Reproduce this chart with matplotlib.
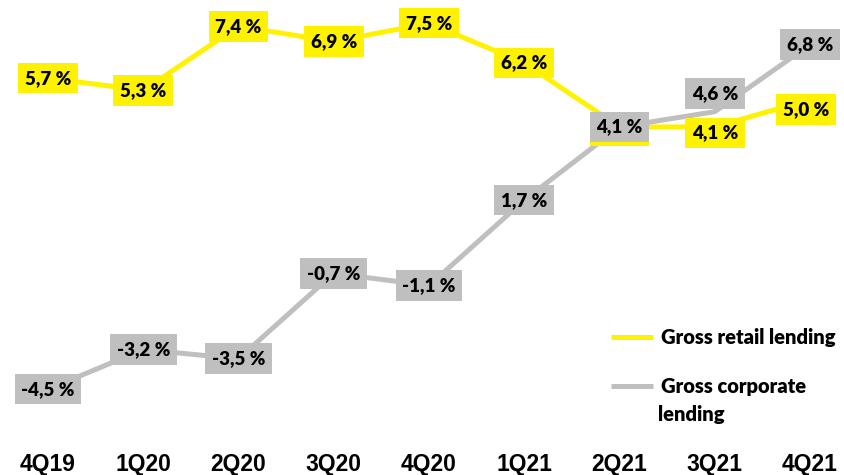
import matplotlib
matplotlib.use("Agg")
import matplotlib.pyplot as plt

# data
quarters = ["4Q19", "1Q20", "2Q20", "3Q20", "4Q20", "1Q21", "2Q21", "3Q21", "4Q21"]
retail = [5.7, 5.3, 7.4, 6.9, 7.5, 6.2, 4.1, 4.1, 5.0]
corporate = [-4.5, -3.2, -3.5, -0.7, -1.1, 1.7, 4.1, 4.6, 6.8]

# label nudges in pixels (dx, dy), like the manual moves in the original
retail_nudge = [(0, 0)] * 6 + [(0, -4), (0, -6), (-4, -10)]
corp_nudge = [(0, 0)] * 7 + [(0, 18), (0, 0)]

yellow = "#FFF200"
grey = "#BFBFBF"
lab_font = "Lato"

fig = plt.figure(figsize=(8.44, 4.75), dpi=100)
ax = fig.add_axes([0, 1 - 440 / 475, 1, 440 / 475])

x = list(range(len(quarters)))
ax.plot(x, retail, color=yellow, lw=3.6, solid_capstyle="butt", zorder=2,
        label="Gross retail lending")
ax.plot(x, corporate, color=grey, lw=3.6, solid_capstyle="butt", zorder=2,
        label="Gross corporate")

def labels(vals, nudges, col, z):
    for i, v in enumerate(vals):
        ax.annotate(f"{v:.1f} %".replace(".", ","), (i, v),
                    xytext=nudges[i], textcoords="offset pixels",
                    ha="center", va="center", fontsize=13.5, fontweight="heavy",
                    family=lab_font, color="black", zorder=z,
                    bbox=dict(boxstyle="square,pad=0.36", fc=col, ec="none"))

labels(retail, retail_nudge, yellow, 3)
labels(corporate, corp_nudge, grey, 4)

ax.set_xlim(-0.504, 8.357)
ax.set_ylim(-6.164, 8.262)
ax.set_xticks(x)
ax.set_xticklabels(quarters, fontsize=16.5, fontweight="bold", family="Liberation Sans")
ax.tick_params(axis="x", length=0, pad=9)
ax.set_yticks([])
for s in ax.spines.values():
    s.set_visible(False)

leg = ax.legend(loc="upper left", bbox_to_anchor=(593 / 844, 1 - 310 / 475),
                bbox_transform=fig.transFigure,
                frameon=False, handlelength=2.1, handletextpad=0.4,
                labelspacing=1.5, prop=dict(family=lab_font, weight="heavy", size=14.5))
# wrapped second line of the corporate legend entry
fig.text(658 / 844, 1 - 421 / 475, "lending", family=lab_font, weight="heavy",
         size=14.5, ha="left", va="baseline")

fig.savefig("out.png", dpi=100)
